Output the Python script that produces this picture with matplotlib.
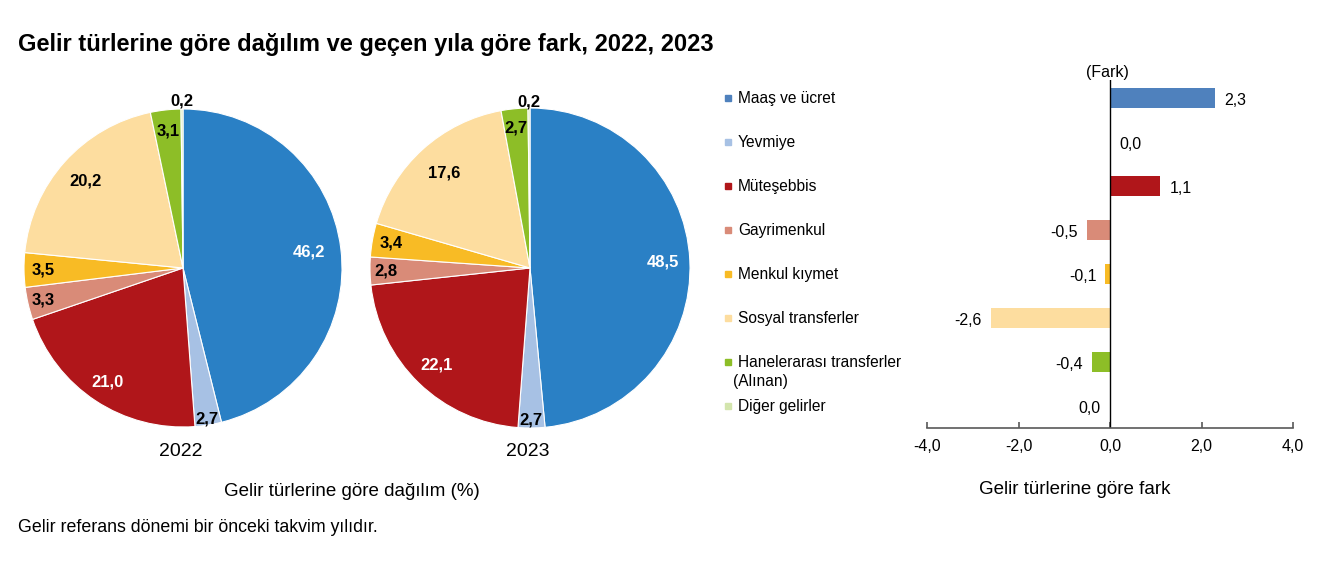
import numpy as np
import matplotlib
matplotlib.use('Agg')
import matplotlib.pyplot as plt
from matplotlib.transforms import blended_transform_factory

plt.rcParams['font.family'] = ['Liberation Sans', 'DejaVu Sans']

# --- data ---
categories = ['Maaş ve ücret', 'Yevmiye', 'Müteşebbis', 'Gayrimenkul',
              'Menkul kıymet', 'Sosyal transferler',
              'Hanelerarası transferler\n(Alınan)', 'Diğer gelirler']
share_2022 = [46.2, 2.7, 21.0, 3.3, 3.5, 20.2, 3.1, 0.2]
share_2023 = [48.5, 2.7, 22.1, 2.8, 3.4, 17.6, 2.7, 0.2]
share_labels_2022 = ['46,2', '2,7', '21,0', '3,3', '3,5', '20,2', '3,1', '0,2']
share_labels_2023 = ['48,5', '2,7', '22,1', '2,8', '3,4', '17,6', '2,7', '0,2']
diff = [2.3, 0.0, 1.1, -0.5, -0.1, -2.6, -0.4, 0.0]
diff_labels = ['2,3', '0,0', '1,1', '-0,5', '-0,1', '-2,6', '-0,4', '0,0']
diff_label_side = [1, 1, 1, -1, -1, -1, -1, -1]
xticks = [-4, -2, 0, 2, 4]
xtick_labels = ['-4,0', '-2,0', '0,0', '2,0', '4,0']

pie_colors = ['#2a80c5', '#a7c1e4', '#b0161a', '#d98b78', '#f8bb25',
              '#fddd9f', '#8dbe27', '#d3e5ad']
bar_colors = ['#4f81bd', '#a7c1e4', '#b0161a', '#d98b78', '#f8bb25',
              '#fddd9f', '#8dbe27', '#d3e5ad']
label_colors = ['white', 'black', 'white', 'black', 'black', 'black', 'black', 'black']

W, H = 1335, 562
fig = plt.figure(figsize=(W / 100, H / 100), dpi=100)


def px_axes(cx, cy, r):
    return fig.add_axes([(cx - r) / W, 1 - (cy + r) / H, 2 * r / W, 2 * r / H])


def draw_pie(ax, vals, labels, label_r):
    ax.pie(vals, colors=pie_colors, startangle=90, counterclock=False,
           wedgeprops=dict(edgecolor='white', linewidth=0.8))
    ax.set_xlim(-1, 1)
    ax.set_ylim(-1, 1)
    cum = np.cumsum([0] + list(vals))
    total = cum[-1]
    for i, (lab, rr) in enumerate(zip(labels, label_r)):
        mid = (cum[i] + cum[i + 1]) / 2 / total * 360
        ang = np.deg2rad(90 - mid)
        ax.text(rr * np.cos(ang), rr * np.sin(ang), lab, ha='center', va='center',
                fontsize=12, fontweight='bold', color=label_colors[i], clip_on=False)


ax1 = px_axes(183, 268, 159)
draw_pie(ax1, share_2022, share_labels_2022,
         [0.8, 0.96, 0.86, 0.9, 0.88, 0.82, 0.87, 1.05])
ax2 = px_axes(530, 268, 160)
draw_pie(ax2, share_2023, share_labels_2023,
         [0.83, 0.95, 0.84, 0.9, 0.88, 0.8, 0.88, 1.04])

fig.text(18 / W, 1 - 45 / H, 'Gelir türlerine göre dağılım ve geçen yıla göre fark, 2022, 2023',
         fontsize=17, fontweight='bold', va='center', ha='left')
fig.text(181 / W, 1 - 452 / H, '2022', fontsize=14, ha='center', va='center')
fig.text(528 / W, 1 - 452 / H, '2023', fontsize=14, ha='center', va='center')
fig.text(352 / W, 1 - 492 / H, 'Gelir türlerine göre dağılım (%)', fontsize=13.5,
         ha='center', va='center')
fig.text(18 / W, 1 - 528 / H, 'Gelir referans dönemi bir önceki takvim yılıdır.',
         fontsize=12.8, ha='left', va='center')

# --- bar chart ---
left, right, top, bottom = 927, 1293, 80, 428
axb = fig.add_axes([left / W, 1 - bottom / H, (right - left) / W, (bottom - top) / H])
y = np.arange(len(categories))
axb.barh(y, diff, height=0.45, color=bar_colors)
axb.set_xlim(-4, 4)
axb.set_ylim(7.5, -0.41)
axb.axvline(0, color='black', linewidth=1)
for s in ['top', 'right', 'left']:
    axb.spines[s].set_visible(False)
axb.spines['bottom'].set_color('#595959')
axb.spines['bottom'].set_linewidth(1.2)
axb.set_yticks([])
axb.set_xticks(xticks)
axb.set_xticklabels(xtick_labels, fontsize=11.5)
axb.tick_params(axis='x', direction='in', length=4, width=1.2, color='#595959', pad=8)

for yi, v, lab, side in zip(y, diff, diff_labels, diff_label_side):
    xpos = v + side * 0.2
    axb.text(xpos, yi + 0.05, lab, ha='left' if side > 0 else 'right', va='center',
             fontsize=11.5)

# category legend on the left
trans = blended_transform_factory(fig.transFigure, axb.transData)
for yi, cat, c in zip(y, categories, bar_colors):
    lines = cat.split('\n')
    axb.plot([728 / W], [yi], marker='s', markersize=5, color=c, transform=trans,
             clip_on=False, linestyle='none')
    axb.text(738 / W, yi, lines[0], transform=trans, ha='left', va='center', fontsize=11.2)
    for k, extra in enumerate(lines[1:], start=1):
        axb.text(733 / W, yi + 0.44 * k, extra, transform=trans, ha='left', va='center',
                 fontsize=11.2)

fig.text(1107 / W, 1 - 73 / H, '(Fark)', fontsize=11.5, ha='center', va='center')
fig.text(1075 / W, 1 - 490 / H, 'Gelir türlerine göre fark', fontsize=13.5,
         ha='center', va='center')

fig.savefig('out.png', dpi=100)
